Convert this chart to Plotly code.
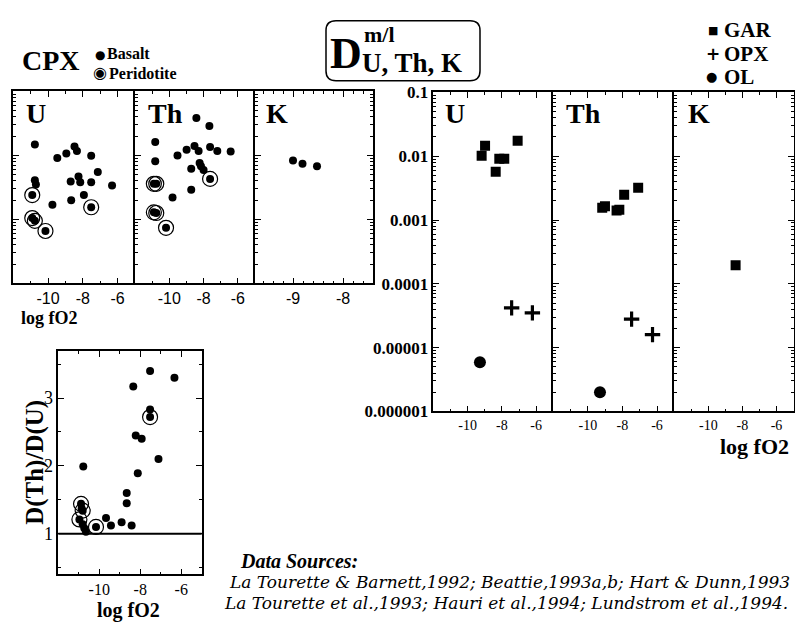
import plotly.graph_objects as go

# ---------------- data ----------------
# CPX (top-left), D values vs log fO2
cpx_u_bas_x = [-10.76, -9.47, -8.95, -8.48, -8.34, -7.52, -7.14, -8.25, -8.15, -8.70, -7.52, -6.32, -7.94, -8.67, -9.75, -10.76, -10.70]
cpx_u_bas_y = [0.0148, 0.0091, 0.0107, 0.0138, 0.0117, 0.0099, 0.0055, 0.0047, 0.0038, 0.0039, 0.0038, 0.0034, 0.0024, 0.0020, 0.0017, 0.0041, 0.0035]
cpx_u_per_x = [-10.91, -10.91, -10.76, -10.15, -7.52]
cpx_u_per_y = [0.0024, 0.00105, 0.00095, 0.00066, 0.00155]

cpx_th_bas_x = [-8.42, -7.66, -10.82, -8.53, -8.99, -9.52, -8.29, -7.62, -7.20, -6.42, -10.82, -8.23, -8.15, -8.00, -8.72, -8.72, -9.81]
cpx_th_bas_y = [0.0385, 0.0288, 0.0162, 0.0141, 0.0123, 0.0100, 0.0117, 0.0135, 0.0117, 0.0115, 0.0081, 0.0076, 0.0068, 0.0059, 0.0062, 0.0029, 0.0022]
cpx_th_per_x = [-10.90, -10.76, -7.62, -10.90, -10.76, -10.19]
cpx_th_per_y = [0.0036, 0.0036, 0.0043, 0.00129, 0.00126, 0.00074]

cpx_k_bas_x = [-9.00, -8.81, -8.52]
cpx_k_bas_y = [0.0083, 0.0074, 0.0068]

# D(Th)/D(U) ratio panel
ratio_bas_x = [-7.52, -6.33, -8.34, -7.52, -8.22, -7.93, -7.11, -10.78, -8.12, -8.66, -8.66, -9.67, -9.43, -8.91, -8.42, -10.86, -10.81, -10.73, -10.65]
ratio_bas_y = [3.40, 3.30, 3.17, 2.83, 2.45, 2.40, 2.10, 1.99, 1.89, 1.60, 1.45, 1.23, 1.12, 1.17, 1.12, 1.37, 1.14, 1.08, 1.03]
ratio_per_x = [-7.52, -10.16, -10.89, -10.81, -10.97]
ratio_per_y = [2.72, 1.10, 1.44, 1.34, 1.21]

# Right panels: GAR / OPX / OL
u_gar_x = [-9.18, -8.98, -8.36, -8.15, -7.86, -7.08]
u_gar_y = [0.0102, 0.0146, 0.0057, 0.0091, 0.0091, 0.0174]
u_opx_x = [-7.43, -6.22]
u_opx_y = [4.2e-5, 3.5e-5]
u_ol_x = [-9.28]
u_ol_y = [5.9e-6]

th_gar_x = [-9.17, -9.01, -8.34, -8.18, -7.90, -7.09]
th_gar_y = [0.00155, 0.00165, 0.00141, 0.00145, 0.00248, 0.0032]
th_opx_x = [-7.47, -6.26]
th_opx_y = [2.8e-5, 1.6e-5]
th_ol_x = [-9.30]
th_ol_y = [2.0e-6]

k_gar_x = [-8.40]
k_gar_y = [1.95e-4]

log_ticks = [1e-1, 1e-2, 1e-3, 1e-4, 1e-5, 1e-6]
log_ticktext = ["0.1", "0.01", "0.001", "0.0001", "0.00001", "0.000001"]
fo2_ticks = [-10, -8, -6]
k_cpx_ticks = [-9, -8]
ratio_ticks = [1, 2, 3]

# ---------------- layout helpers ----------------
W, H = 795, 628
SERIF = "Liberation Serif"
SANS = "Liberation Sans"


def dx(x0, x1):
    return [x0 / W, x1 / W]


def dy(y0, y1):
    return [1 - y1 / H, 1 - y0 / H]


def px(x):
    return x / W


def py(y):
    return 1 - y / H


fig = go.Figure()

DOT = dict(color="black", size=8)
RING = dict(color="rgba(0,0,0,0)", size=15, line=dict(color="black", width=1.2))


def add_cpx(xa, ya, bx, by, pxs=None, pys=None):
    fig.add_trace(go.Scatter(x=bx, y=by, mode="markers", marker=DOT, xaxis=xa, yaxis=ya, showlegend=False))
    if pxs:
        fig.add_trace(go.Scatter(x=pxs, y=pys, mode="markers", marker=DOT, xaxis=xa, yaxis=ya, showlegend=False))
        fig.add_trace(go.Scatter(x=pxs, y=pys, mode="markers", marker=RING, xaxis=xa, yaxis=ya, showlegend=False))


add_cpx("x", "y", cpx_u_bas_x, cpx_u_bas_y, cpx_u_per_x, cpx_u_per_y)
add_cpx("x2", "y2", cpx_th_bas_x, cpx_th_bas_y, cpx_th_per_x, cpx_th_per_y)
add_cpx("x3", "y3", cpx_k_bas_x, cpx_k_bas_y)
add_cpx("x4", "y4", ratio_bas_x, ratio_bas_y, ratio_per_x, ratio_per_y)

GAR = dict(symbol="square", color="black", size=10)
OPX = dict(symbol="cross-thin", size=11, line=dict(color="black", width=3.2))
OL = dict(symbol="circle", color="black", size=12)

for xa, ya, gx, gy, ox, oy, lx, ly in [
    ("x5", "y5", u_gar_x, u_gar_y, u_opx_x, u_opx_y, u_ol_x, u_ol_y),
    ("x6", "y6", th_gar_x, th_gar_y, th_opx_x, th_opx_y, th_ol_x, th_ol_y),
    ("x7", "y7", k_gar_x, k_gar_y, [], [], [], []),
]:
    fig.add_trace(go.Scatter(x=gx, y=gy, mode="markers", marker=GAR, xaxis=xa, yaxis=ya, showlegend=False))
    if ox:
        fig.add_trace(go.Scatter(x=ox, y=oy, mode="markers", marker=OPX, xaxis=xa, yaxis=ya, showlegend=False))
    if lx:
        fig.add_trace(go.Scatter(x=lx, y=ly, mode="markers", marker=OL, xaxis=xa, yaxis=ya, showlegend=False))

minor_log = [k * 10 ** e for e in range(-6, -1) for k in range(2, 10)]

base_axis = dict(showline=True, linecolor="black", linewidth=1.5, ticks="inside",
                 ticklen=6, tickwidth=1.2, tickcolor="black", showgrid=False, zeroline=False)


def xaxis(domain, rng, tickvals, font, anchor, size=16):
    d = dict(base_axis)
    d.update(domain=domain, range=rng, tickmode="array", tickvals=tickvals,
             ticktext=[str(t) for t in tickvals], mirror="ticks", anchor=anchor,
             tickfont=dict(family=font, size=size, color="black"),
             minor=dict(tickmode="linear", tick0=0, dtick=1 if rng[1] - rng[0] > 3 else 0.2,
                        ticks="inside", ticklen=3, tickcolor="black"))
    return d


def ylog(domain, rng, anchor, show=False, last=False):
    d = dict(base_axis)
    d.update(domain=domain, type="log", range=rng, tickmode="array", tickvals=log_ticks,
             ticktext=[f"<b>{t}</b>" for t in log_ticktext], showticklabels=show, anchor=anchor,
             mirror="ticks" if last else False,
             tickfont=dict(family=SERIF, size=17, color="black"),
             minor=dict(tickmode="array", tickvals=minor_log, ticks="inside", ticklen=3, tickcolor="black"))
    return d


# CPX panels
cpx_y = dy(85, 283)
fig.update_layout(
    xaxis=xaxis(dx(13.3, 135), [-12, -5], fo2_ticks, SANS, "y"),
    yaxis=ylog(cpx_y, [-4, -1], "x"),
    xaxis2=xaxis(dx(135, 255), [-12, -5], fo2_ticks, SANS, "y2"),
    yaxis2=ylog(cpx_y, [-4, -1], "x2"),
    xaxis3=xaxis(dx(255, 373), [-9.76, -7.4], k_cpx_ticks, SANS, "y3"),
    yaxis3=ylog(cpx_y, [-4, -1], "x3", last=True),
)

# Ratio panel
ax4 = xaxis(dx(58.3, 201.7), [-12, -5], fo2_ticks, SERIF, "y4")
ay4 = dict(base_axis)
ay4.update(domain=dy(353, 583), range=[0.4, 3.69], tickmode="array", tickvals=ratio_ticks,
           ticktext=[str(t) for t in ratio_ticks], anchor="x4", mirror="ticks",
           tickfont=dict(family=SERIF, size=18, color="black"),
           minor=dict(tickmode="linear", tick0=0, dtick=0.5, ticks="inside", ticklen=3, tickcolor="black"))
fig.update_layout(xaxis4=ax4, yaxis4=ay4)

# Right panels
r_y = dy(86, 415)
fig.update_layout(
    xaxis5=xaxis(dx(433.3, 553.3), [-12, -5], fo2_ticks, SERIF, "y5", size=14),
    yaxis5=ylog(r_y, [-6, -1], "x5", show=True),
    xaxis6=xaxis(dx(553.3, 674.3), [-12, -5], fo2_ticks, SERIF, "y6", size=14),
    yaxis6=ylog(r_y, [-6, -1], "x6"),
    xaxis7=xaxis(dx(674.3, 793.5), [-12, -5], fo2_ticks, SERIF, "y7", size=14),
    yaxis7=ylog(r_y, [-6, -1], "x7", last=True),
)

# horizontal line at ratio = 1
fig.add_shape(type="line", xref="x4 domain", x0=0, x1=1, yref="y4", y0=1, y1=1,
              line=dict(color="black", width=2))

# title box (rounded rectangle)
bx0, bx1, by0, by1, r = 326, 480, 12, 74, 10
path = (f"M {px(bx0 + r)},{py(by0)} L {px(bx1 - r)},{py(by0)} Q {px(bx1)},{py(by0)} {px(bx1)},{py(by0 + r)} "
        f"L {px(bx1)},{py(by1 - r)} Q {px(bx1)},{py(by1)} {px(bx1 - r)},{py(by1)} "
        f"L {px(bx0 + r)},{py(by1)} Q {px(bx0)},{py(by1)} {px(bx0)},{py(by1 - r)} "
        f"L {px(bx0)},{py(by0 + r)} Q {px(bx0)},{py(by0)} {px(bx0 + r)},{py(by0)} Z")
fig.add_shape(type="path", xref="paper", yref="paper", path=path, line=dict(color="black", width=1.5))

ann = []


def text(x, y, s, size, font=SERIF, xanchor="left", yanchor="middle", angle=0):
    ann.append(dict(x=px(x), y=py(y), xref="paper", yref="paper", text=s, showarrow=False,
                    xanchor=xanchor, yanchor=yanchor, textangle=angle,
                    font=dict(family=font, size=size, color="black")))


# title
text(328, 46, "<b>D</b>", 44)
text(362, 26, "<b>m/l</b>", 22)
text(360, 56, "<b>U, Th, K</b>", 27)

# CPX legend
text(20, 53, "<b>CPX</b>", 28)
text(93, 47, "●", 12, font="DejaVu Sans")
text(105, 46, "<b>Basalt</b>", 16)
text(91, 65, "◉", 16, font="DejaVu Sans")
text(107, 66, "<b>Peridotite</b>", 16)

# mineral legend
text(706, 22, "■", 11, font="DejaVu Sans")
text(722, 22, "<b>GAR</b>", 21)
text(704, 46, "<b>+</b>", 17, font="DejaVu Sans")
text(722, 46, "<b>OPX</b>", 21)
text(704, 70, "●", 13, font="DejaVu Sans")
text(722, 70, "<b>OL</b>", 21)

# panel labels
for x, s in [(24, "U"), (146, "Th"), (264, "K"), (443, "U"), (564, "Th"), (686, "K")]:
    text(x, 108, f"<b>{s}</b>", 28)

# axis labels
text(19, 319, "<b>log fO2</b>", 18)
text(128, 620, "<b>log fO2</b>", 20, xanchor="center")
text(791, 451, "<b>log fO2</b>", 22, xanchor="right")
text(35, 468, "<b>D(Th)/D(U)</b>", 25, xanchor="center", angle=-90)

# data sources
text(238, 569, "<b><i>Data Sources:</i></b>", 20)
text(227, 591, "<i>La Tourette &amp; Barnett,1992; Beattie,1993a,b; Hart &amp; Dunn,1993</i>", 17, font="DejaVu Serif")
text(222, 613, "<i>La Tourette et al.,1993; Hauri et al.,1994; Lundstrom et al.,1994.</i>", 17, font="DejaVu Serif")

fig.update_layout(annotations=ann, width=W, height=H, autosize=False,
                  margin=dict(l=0, r=0, t=0, b=0), paper_bgcolor="white", plot_bgcolor="white",
                  showlegend=False)

fig.write_html("out.html")
